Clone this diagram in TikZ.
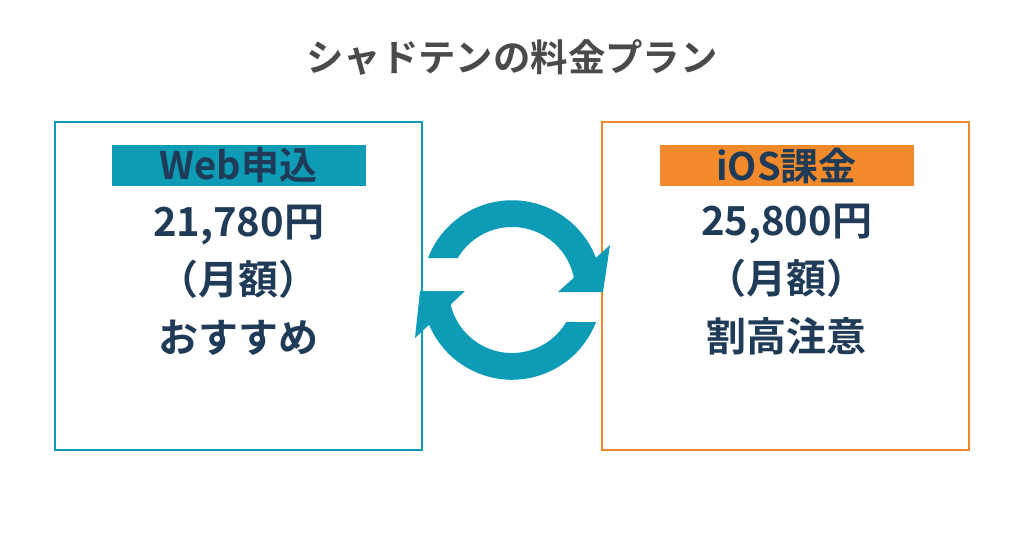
\documentclass[tikz,border=0pt]{standalone}
\usepackage{fontspec}
\newfontfamily\cjk{Noto Sans CJK JP Bold}
\usetikzlibrary{positioning}
\definecolor{teal}{HTML}{0E9BB5}
\definecolor{orng}{HTML}{F28A2B}
\definecolor{navy}{HTML}{1F3B57}
\definecolor{titlegray}{HTML}{4A4A4A}
\begin{document}
\begin{tikzpicture}[x=0.5pt,y=-0.5pt]
\tikzstyle{planbox}=[draw,line width=1pt,minimum width=183.5pt,minimum height=164pt,inner sep=0pt]
\tikzstyle{tagbar}=[minimum width=127pt,minimum height=20.5pt,inner sep=0pt,text=navy,font=\cjk\fontsize{19}{20}\selectfont]
\tikzstyle{price}=[text=navy,align=center,font=\cjk\fontsize{20}{29}\selectfont]
\useasboundingbox (0,0) rectangle (1024,538);
\node[text=titlegray,font=\cjk\fontsize{18.7}{20}\selectfont] (title) at (512,57) {シャドテンの料金プラン};
\node[planbox,draw=teal] (web) at (238.5,286) {};
\node[planbox,draw=orng] (ios) at (785.5,286) {};
\node[tagbar,fill=teal] (webtag) at (238.5,165) {Web申込};
\node[tagbar,fill=orng] (iostag) at (786.5,165.5) {iOS課金};
\node[price] (webprice) at (238.5,280) {21,780円\\（月額）\\おすすめ};
\node[price] (iosprice) at (786.5,280) {25,800円\\（月額）\\割高注意};
% cycle arrows
\fill[teal] (428,258) arc[start angle=201,end angle=355,radius=90] -- (574.8,284.5) arc[start angle=355,end angle=210.5,radius=63] -- cycle;
\fill[teal] (610,245) -- (558,292) -- (603,292) -- cycle;
\fill[teal] (596,322) arc[start angle=21,end angle=175,radius=90] -- (449.2,295.5) arc[start angle=175,end angle=30.5,radius=63] -- cycle;
\fill[teal] (415,338) -- (465,291) -- (420,291) -- cycle;
\end{tikzpicture}
\end{document}
